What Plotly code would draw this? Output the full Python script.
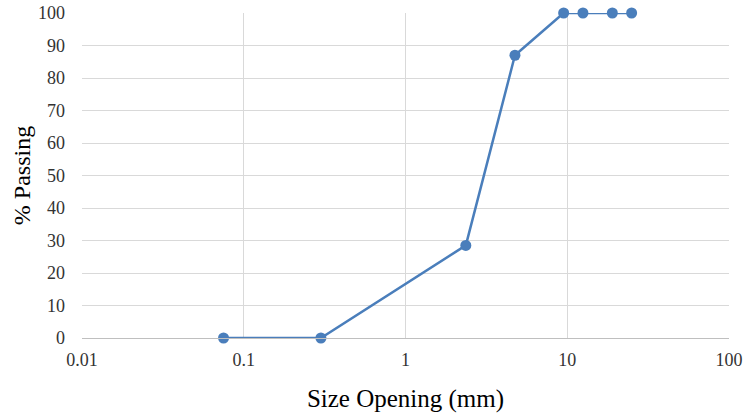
import plotly.graph_objects as go

# Sieve opening sizes (mm) and cumulative percent passing
size_mm = [0.075, 0.3, 2.36, 4.75, 9.5, 12.5, 19, 25]
percent_passing = [0, 0, 28.5, 87, 100, 100, 100, 100]

x_tick_vals = [0.01, 0.1, 1, 10, 100]
x_tick_text = ["0.01", "0.1", "1", "10", "100"]
y_tick_vals = list(range(0, 101, 10))

line_color = "#4A7EBB"
grid_color = "#D9D9D9"
font_family = "Liberation Serif, Times New Roman, serif"

fig = go.Figure(
    go.Scatter(
        x=size_mm,
        y=percent_passing,
        mode="lines+markers",
        line=dict(color=line_color, width=2.5),
        marker=dict(color=line_color, size=11),
        cliponaxis=False,
        showlegend=False,
    )
)

fig.update_layout(
    template="none",
    width=745,
    height=416,
    margin=dict(l=82, r=16, t=13, b=78, autoexpand=False),
    paper_bgcolor="white",
    plot_bgcolor="white",
    font=dict(family=font_family, size=18, color="#333333"),
)

fig.update_xaxes(
    type="log",
    range=[-2, 2],
    tickvals=x_tick_vals,
    ticktext=x_tick_text,
    showgrid=True,
    gridcolor=grid_color,
    gridwidth=1,
    zeroline=False,
    showline=True,
    linecolor="#BFBFBF",
    linewidth=1,
    mirror=False,
    ticks="",
    automargin=False,
    ticklabelstandoff=5,
    title=dict(text="Size Opening (mm)", font=dict(family=font_family, size=25, color="black"), standoff=20),
)

fig.update_yaxes(
    range=[0, 100],
    tickvals=y_tick_vals,
    showgrid=True,
    gridcolor=grid_color,
    gridwidth=1,
    zeroline=False,
    showline=False,
    ticks="",
    automargin=False,
    ticklabelstandoff=16,
    title=dict(text="% Passing", font=dict(family=font_family, size=24, color="black"), standoff=0),
)

fig.write_html("out.html")
